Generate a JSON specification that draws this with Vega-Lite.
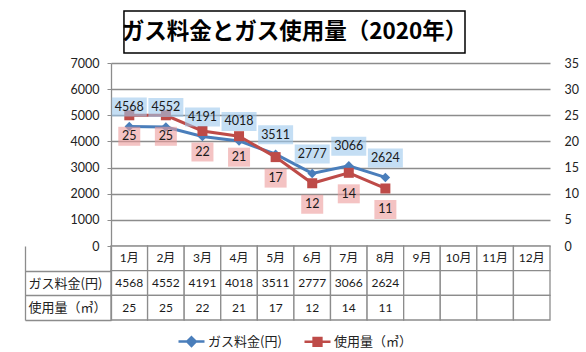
{
  "$schema": "https://vega.github.io/schema/vega-lite/v6.json",
  "padding": {"left": 24, "top": 10, "right": 5, "bottom": 0},
  "background": "white",
  "datasets": {
    "months": [
      {"m": "1月", "fee": 4568, "use": 25},
      {"m": "2月", "fee": 4552, "use": 25},
      {"m": "3月", "fee": 4191, "use": 22},
      {"m": "4月", "fee": 4018, "use": 21},
      {"m": "5月", "fee": 3511, "use": 17},
      {"m": "6月", "fee": 2777, "use": 12},
      {"m": "7月", "fee": 3066, "use": 14},
      {"m": "8月", "fee": 2624, "use": 11},
      {"m": "9月"},
      {"m": "10月"},
      {"m": "11月"},
      {"m": "12月"}
    ],
    "title": [{"t": "ガス料金とガス使用量（2020年）"}]
  },
  "bounds": "flush",
  "spacing": 0,
  "vconcat": [
    {
      "width": 354,
      "height": 52,
      "data": {"name": "title"},
      "encoding": {
        "x": {"field": "t", "type": "nominal", "axis": null, "scale": {"paddingInner": 0, "paddingOuter": 0.019, "align": 1}},
        "y": {"field": "t", "type": "nominal", "axis": null, "scale": {"paddingInner": 0, "paddingOuter": 0.12, "align": 0}}
      },
      "layer": [
        {"mark": {"type": "rect", "fill": "white", "stroke": "black", "strokeWidth": 1.5}},
        {"mark": {"type": "text", "font": "Noto Sans CJK JP", "fontWeight": "bold", "fontSize": 22.5, "color": "black", "baseline": "middle"}, "encoding": {"text": {"field": "t"}}}
      ]
    },
    {
      "width": 439,
      "height": 183,
      "data": {"name": "months"},
      "encoding": {
        "x": {"field": "m", "type": "ordinal", "axis": null,
              "scale": {"domain": ["1月","2月","3月","4月","5月","6月","7月","8月","9月","10月","11月","12月"], "paddingInner": 0, "paddingOuter": 0}}
      },
      "layer": [
        {
          "encoding": {
            "y": {"field": "fee", "type": "quantitative", "scale": {"domain": [0, 7000]},
                  "axis": {"orient": "left", "values": [0,1000,2000,3000,4000,5000,6000,7000], "format": "d", "title": null, "grid": true, "gridColor": "#8c8c8c", "gridWidth": 1.3, "domainColor": "#8c8c8c", "domainWidth": 1.3, "tickColor": "#8c8c8c", "tickSize": 4, "labelPadding": 8, "labelFont": "Lato", "labelFontSize": 12.5, "labelColor": "#222"}}
          },
          "layer": [
            {"mark": {"type": "line", "strokeWidth": 3},
             "encoding": {"color": {"datum": "ガス料金(円)", "scale": {"domain": ["ガス料金(円)", "使用量（㎥）"], "range": ["#4A7EBB", "#BE4B48"]},
               "legend": {"orient": "none", "legendX": 66, "legendY": 316, "direction": "horizontal", "title": null, "symbolSize": 676, "columnPadding": 17, "labelFont": "Noto Sans CJK JP", "labelFontSize": 13, "labelColor": "#222", "labelOffset": 2,
                 "encode": {"symbols": {"update": {
                   "shape": {"signal": "datum.value === 'ガス料金(円)' ? 'M-1,0H1M0,-0.33L0.33,0L0,0.33L-0.33,0Z' : 'M-1,0H1M-0.3,-0.3H0.3V0.3H-0.3Z'"},
                   "fill": {"signal": "datum.value === 'ガス料金(円)' ? '#4A7EBB' : '#BE4B48'"},
                   "stroke": {"signal": "datum.value === 'ガス料金(円)' ? '#4A7EBB' : '#BE4B48'"},
                   "strokeWidth": {"value": 2.5},
                   "opacity": {"value": 1}
                 }}}}}}},
            {"mark": {"type": "point", "shape": "diamond", "filled": true, "size": 90, "color": "#4A7EBB", "opacity": 1}}
          ]
        },
        {
          "encoding": {
            "y": {"field": "use", "type": "quantitative", "scale": {"domain": [0, 35]},
                  "axis": {"orient": "right", "values": [0,5,10,15,20,25,30,35], "title": null, "grid": false, "domain": false, "ticks": false, "labelPadding": 14, "labelFont": "Lato", "labelFontSize": 12.5, "labelColor": "#222"}}
          },
          "layer": [
            {"mark": {"type": "line", "strokeWidth": 3},
             "encoding": {"color": {"datum": "使用量（㎥）"}}},
            {"mark": {"type": "point", "shape": "square", "filled": true, "size": 100, "color": "#BE4B48", "opacity": 1}}
          ]
        },
        {
          "encoding": {
            "y": {"field": "fee", "type": "quantitative", "scale": {"domain": [0, 7000]}, "axis": null}
          },
          "layer": [
            {"mark": {"type": "point", "shape": "M-1.75,-2.9H1.75V-1.0H-1.75Z", "size": 400, "filled": true, "color": "#9DC8EC", "opacity": 0.6, "strokeWidth": 0}},
            {"mark": {"type": "text", "font": "Lato", "fontSize": 12.5, "color": "#1a1a1a", "baseline": "middle", "dy": -19.5},
             "encoding": {"text": {"field": "fee", "type": "quantitative"}}}
          ]
        },
        {
          "encoding": {
            "y": {"field": "use", "type": "quantitative", "scale": {"domain": [0, 35]}, "axis": null}
          },
          "layer": [
            {"mark": {"type": "point", "shape": "M-1.1,1.15H1.1V3.05H-1.1Z", "size": 400, "filled": true, "color": "#EC9B9B", "opacity": 0.6, "strokeWidth": 0}},
            {"mark": {"type": "text", "font": "Lato", "fontSize": 12.5, "color": "#1a1a1a", "baseline": "middle", "dy": 21},
             "encoding": {"text": {"field": "use", "type": "quantitative"}}}
          ]
        }
      ],
      "resolve": {"scale": {"y": "independent"}, "axis": {"y": "independent"}}
    },
    {
      "width": 439,
      "height": 74,
      "data": {"name": "months"},
      "transform": [{"fold": ["m", "fee", "use"], "as": ["row", "v"]}],
      "encoding": {
        "x": {"field": "m", "type": "ordinal", "axis": null,
              "scale": {"domain": ["1月","2月","3月","4月","5月","6月","7月","8月","9月","10月","11月","12月"], "paddingInner": 0, "paddingOuter": 0}}
      },
      "layer": [
        {
          "mark": {"type": "rect", "fill": "white", "stroke": "#8c8c8c", "strokeWidth": 1.3},
          "encoding": {
            "y": {"field": "row", "type": "nominal", "scale": {"domain": ["m", "fee", "use"], "paddingInner": 0, "paddingOuter": 0},
                  "axis": {"orient": "left", "title": null, "tickBand": "extent", "tickSize": 86, "tickWidth": 1.3,
                           "tickColor": {"condition": {"test": "datum.extra", "value": "transparent"}, "value": "#8c8c8c"},
                           "domainColor": "#8c8c8c", "domainWidth": 1.3, "labelAlign": "left", "labelPadding": -3, "labelBaseline": "middle",
                           "labelFont": "Noto Sans CJK JP", "labelFontSize": 13, "labelColor": "#222",
                           "labelExpr": "datum.value === 'fee' ? 'ガス料金(円)' : datum.value === 'use' ? '使用量（㎥）' : ''"}}
          }
        },
        {
          "transform": [{"filter": "isValid(datum.v)"}],
          "mark": {"type": "text", "font": "Lato, Noto Sans CJK JP", "fontSize": 12, "color": "#1a1a1a", "baseline": "middle"},
          "encoding": {
            "y": {"field": "row", "type": "nominal", "axis": {"orient": "left", "offset": 86, "title": null, "labels": false, "ticks": false, "domainColor": "#8c8c8c", "domainWidth": 1.3}},
            "text": {"field": "v", "type": "nominal"}
          }
        }
      ],
      "resolve": {"axis": {"y": "independent"}}
    }
  ],
  "config": {
    "view": {"stroke": null}
  }
}
